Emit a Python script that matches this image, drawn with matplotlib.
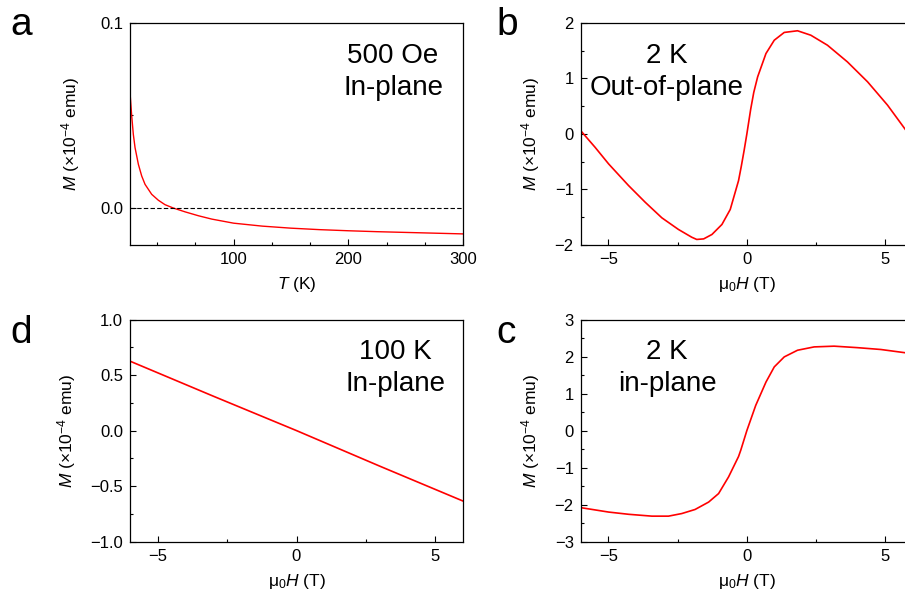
import matplotlib
matplotlib.use("Agg")
import matplotlib.pyplot as plt
from matplotlib.ticker import MultipleLocator

plt.rcParams['font.family'] = ['Liberation Sans', 'DejaVu Sans']
plt.rcParams['mathtext.fontset'] = 'custom'
plt.rcParams['mathtext.rm'] = 'Liberation Sans'
plt.rcParams['mathtext.it'] = 'Liberation Sans:italic'
plt.rcParams['mathtext.bf'] = 'Liberation Sans:bold'

# a: M-T, 500 Oe, in-plane
T_a = [9.7, 11.2, 12.6, 14.1, 17, 19.9, 22.8, 28.6, 34.4, 40.2, 47.4, 57.8, 69.4, 81, 100,
       125, 150, 175, 200, 225, 250, 275, 300]
M_a = [0.0624, 0.0497, 0.0398, 0.0326, 0.0236, 0.0173, 0.0128, 0.0074, 0.0042, 0.0018, 0.0,
       -0.0021, -0.0042, -0.0060, -0.0082, -0.0098, -0.0109, -0.0117, -0.0123, -0.0128,
       -0.0132, -0.0136, -0.0140]

# b: M-H, 2 K, out-of-plane
H_b = [-6.0, -5.48, -4.99, -4.27, -3.67, -3.07, -2.47, -1.99, -1.81, -1.56, -1.26, -0.90,
       -0.60, -0.30, -0.20, -0.10, 0.0, 0.14, 0.25, 0.39, 0.69, 0.99, 1.35, 1.83, 2.31, 2.91,
       3.63, 4.36, 5.08, 5.74, 6.0]
M_b = [0.06, -0.24, -0.54, -0.93, -1.23, -1.51, -1.72, -1.86, -1.90, -1.89, -1.81, -1.63,
       -1.36, -0.84, -0.58, -0.30, 0.0, 0.45, 0.75, 1.03, 1.45, 1.69, 1.83, 1.86, 1.78, 1.60,
       1.30, 0.94, 0.52, 0.07, -0.11]

# d: M-H, 100 K, in-plane
H_d = [-6.0, -3.0, 0.0, 3.0, 6.0]
M_d = [0.625, 0.31, 0.0, -0.32, -0.634]

# c: M-H, 2 K, in-plane
H_c = [-6.0, -4.99, -4.27, -3.43, -2.83, -2.35, -1.87, -1.38, -1.02, -0.66, -0.30, -0.22,
       0.0, 0.32, 0.69, 0.99, 1.35, 1.83, 2.43, 3.15, 3.99, 4.84, 5.74, 6.0]
M_c = [-2.08, -2.20, -2.26, -2.31, -2.31, -2.24, -2.13, -1.93, -1.70, -1.25, -0.70, -0.53,
       0.0, 0.68, 1.31, 1.72, 1.99, 2.17, 2.26, 2.28, 2.24, 2.19, 2.10, 2.07]

W, H = 905, 599
fig = plt.figure(figsize=(W / 100, H / 100), dpi=100)


def box(l, t, r, b):
    return [l / W, 1 - b / H, (r - l) / W, (b - t) / H]


ylab = r'$M$ (×10$^{-4}$ emu)'
hlab = r'μ$_0$$H$ (T)'


def style(ax):
    ax.tick_params(which='both', direction='in', labelsize=12, pad=5, width=0.8)
    ax.tick_params(which='major', length=4.5)
    ax.tick_params(which='minor', length=2.5)
    for s in ax.spines.values():
        s.set_linewidth(0.9)


ax_a = fig.add_axes(box(130, 23, 463, 245))
ax_b = fig.add_axes(box(580.7, 23, 913, 245))
ax_d = fig.add_axes(box(130, 319.5, 463, 541.7))
ax_c = fig.add_axes(box(580.7, 319.5, 913, 541.7))

ann = dict(fontsize=20, ha='center', va='center', linespacing=1.3)

# a
ax_a.plot(T_a, M_a, color='red', lw=1.0)
ax_a.axhline(0, color='black', lw=0.8, ls=(0, (4, 2)))
ax_a.set_xlim(9.7, 300)
ax_a.set_ylim(-0.02, 0.1)
ax_a.set_xticks([100, 200, 300])
ax_a.set_yticks([0.0, 0.1])
ax_a.set_yticklabels(['0.0', '0.1'])
ax_a.xaxis.set_minor_locator(MultipleLocator(100 / 3))
ax_a.yaxis.set_minor_locator(MultipleLocator(0.05))
ax_a.set_xlabel(r'$T$ (K)', fontsize=12.5, labelpad=6)
ax_a.set_ylabel(ylab, fontsize=12.5)
ax_a.yaxis.set_label_coords(-0.145, 0.5)
ax_a.text(0.79, 0.78, '500 Oe\nIn-plane', transform=ax_a.transAxes, **ann)

# b
ax_b.plot(H_b, M_b, color='red', lw=1.2)
ax_b.set_xlim(-6, 6)
ax_b.set_ylim(-2, 2)
ax_b.set_xticks([-5, 0, 5])
ax_b.set_yticks([-2, -1, 0, 1, 2])
ax_b.xaxis.set_minor_locator(MultipleLocator(2.5))
ax_b.yaxis.set_minor_locator(MultipleLocator(0.5))
ax_b.set_xlabel(hlab, fontsize=12.5, labelpad=6)
ax_b.set_ylabel(ylab, fontsize=12.5)
ax_b.yaxis.set_label_coords(-0.116, 0.5)
ax_b.text(0.26, 0.78, '2 K\nOut-of-plane', transform=ax_b.transAxes, **ann)

# d
ax_d.plot(H_d, M_d, color='red', lw=1.2)
ax_d.set_xlim(-6, 6)
ax_d.set_ylim(-1, 1)
ax_d.set_xticks([-5, 0, 5])
ax_d.set_yticks([-1.0, -0.5, 0.0, 0.5, 1.0])
ax_d.set_yticklabels(['−1.0', '−0.5', '0.0', '0.5', '1.0'])
ax_d.xaxis.set_minor_locator(MultipleLocator(2.5))
ax_d.yaxis.set_minor_locator(MultipleLocator(0.25))
ax_d.set_xlabel(hlab, fontsize=12.5, labelpad=6)
ax_d.set_ylabel(ylab, fontsize=12.5)
ax_d.yaxis.set_label_coords(-0.156, 0.5)
ax_d.text(0.796, 0.782, '100 K\nIn-plane', transform=ax_d.transAxes, **ann)

# c
ax_c.plot(H_c, M_c, color='red', lw=1.2)
ax_c.set_xlim(-6, 6)
ax_c.set_ylim(-3, 3)
ax_c.set_xticks([-5, 0, 5])
ax_c.set_yticks([-3, -2, -1, 0, 1, 2, 3])
ax_c.xaxis.set_minor_locator(MultipleLocator(2.5))
ax_c.yaxis.set_minor_locator(MultipleLocator(0.5))
ax_c.set_xlabel(hlab, fontsize=12.5, labelpad=6)
ax_c.set_ylabel(ylab, fontsize=12.5)
ax_c.yaxis.set_label_coords(-0.116, 0.5)
ax_c.text(0.26, 0.782, '2 K\nin-plane', transform=ax_c.transAxes, **ann)

for ax in (ax_a, ax_b, ax_d, ax_c):
    style(ax)

# panel letters
for x, y, s in [(10, 35, 'a'), (496, 35, 'b'), (10, 343, 'd'), (496, 343, 'c')]:
    fig.text(x / W, 1 - y / H, s, fontsize=28, ha='left', va='baseline')

fig.savefig('out.png', dpi=100)
